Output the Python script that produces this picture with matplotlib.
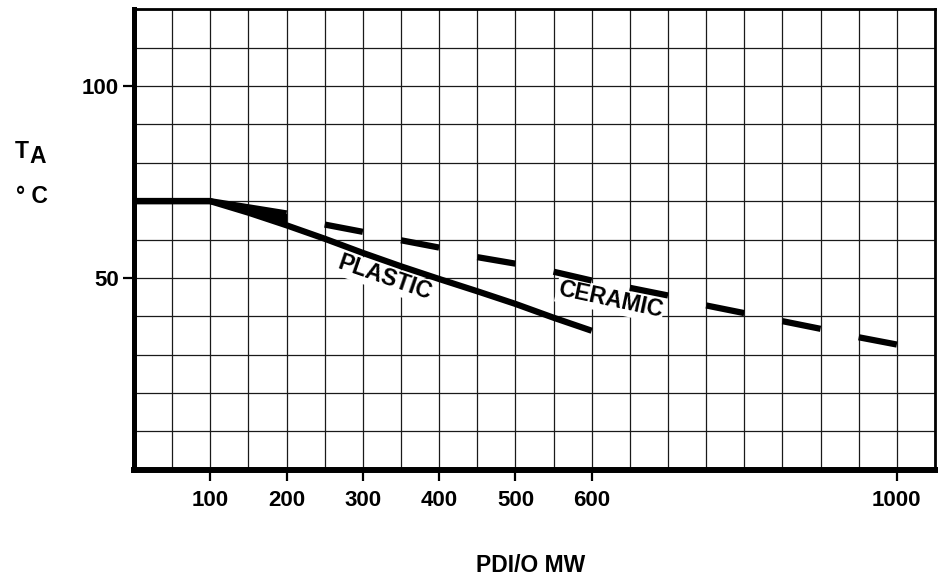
import matplotlib
matplotlib.use("Agg")
import matplotlib.pyplot as plt

plt.rcParams['font.family'] = ['Liberation Sans', 'DejaVu Sans']
plt.rcParams['font.weight'] = 'bold'

# derating curves, ambient temperature (°C) vs I/O power dissipation (mW)
plastic_x = [0, 100, 150, 200, 250, 300, 350, 400, 450, 500, 550, 600]
plastic_y = [70, 70, 67, 63.7, 60.2, 56.5, 53, 49.7, 46.5, 43.2, 39.6, 36.2]

ceramic_x = [0, 100, 150, 200, 250, 300, 350, 400, 450, 500, 550, 600,
             650, 700, 750, 800, 850, 900, 950, 1000]
ceramic_y = [70, 70, 68.4, 66.8, 63.9, 62, 59.8, 57.9, 55.4, 53.7, 51.6, 49.3,
             47.4, 45.4, 42.8, 40.8, 38.7, 36.7, 34.5, 32.6]

xticks = [100, 200, 300, 400, 500, 600, 1000]
yticks = [50, 100]

fig = plt.figure(figsize=(9.41, 5.79), dpi=100)
ax = fig.add_axes([0.1424, 0.1891, 0.8512, 0.7945])

ax.set_xlim(0, 1050)
ax.set_ylim(0, 120)

# square grid: every 50 mW and every 10 °C
ax.set_xticks(range(0, 1051, 50), minor=True)
ax.set_yticks(range(0, 121, 10), minor=True)
ax.set_xticks(xticks)
ax.set_yticks(yticks)
ax.set_xticklabels([str(v) for v in xticks])
ax.set_yticklabels([str(v) for v in yticks])
ax.grid(which='both', color='#1a1a1a', lw=0.9, zorder=1)
ax.set_axisbelow(True)
ax.tick_params(which='minor', length=0)
ax.tick_params(which='major', length=8, width=1.6, direction='out',
               labelsize=16, colors='black')
ax.tick_params(axis='x', pad=7)
ax.tick_params(axis='y', pad=3)
for lab in ax.get_xticklabels() + ax.get_yticklabels():
    lab.set_fontweight('bold')

ax.spines['left'].set_linewidth(3.6)
ax.spines['bottom'].set_linewidth(4.3)
ax.spines['top'].set_linewidth(2)
ax.spines['right'].set_linewidth(2)

# plastic: solid heavy line
ax.plot(plastic_x, plastic_y, color='black', lw=4.5,
        solid_capstyle='butt', solid_joinstyle='round', zorder=4)

# ceramic: solid up to 200 mW, then 50 mW dashes
for i in range(len(ceramic_x) - 1):
    x0 = ceramic_x[i]
    if x0 < 200 or (x0 // 50) % 2 == 1:
        ax.plot(ceramic_x[i:i + 2], ceramic_y[i:i + 2], color='black', lw=4.5,
                solid_capstyle='butt', zorder=4)

# filled wedge where the two curves split
n = ceramic_x.index(200) + 1
ax.fill_between(ceramic_x[1:n], plastic_y[1:n], ceramic_y[1:n],
                color='black', lw=0, zorder=4)

ax.text(329, 49.9, 'PLASTIC', rotation=-19, fontsize=16.5, fontweight='bold',
        ha='center', va='center', rotation_mode='anchor', zorder=3,
        bbox=dict(facecolor='white', edgecolor='none', pad=1))
ax.text(624, 44.2, 'CERAMIC', rotation=-12, fontsize=16.5, fontweight='bold',
        ha='center', va='center', rotation_mode='anchor', zorder=3,
        bbox=dict(facecolor='white', edgecolor='none', pad=1))

fig.text(0.0159, 0.7271, 'T', fontsize=16.5, fontweight='bold', va='baseline')
fig.text(0.0312, 0.7185, 'A', fontsize=16.5, fontweight='bold', va='baseline')
fig.text(0.0175, 0.6494, '° C', fontsize=16.5, fontweight='bold', va='baseline')
fig.text(0.5643, 0.0121, 'PDI/O MW', fontsize=16.5, fontweight='bold',
         ha='center', va='baseline')

fig.savefig('out.png', dpi=100)
